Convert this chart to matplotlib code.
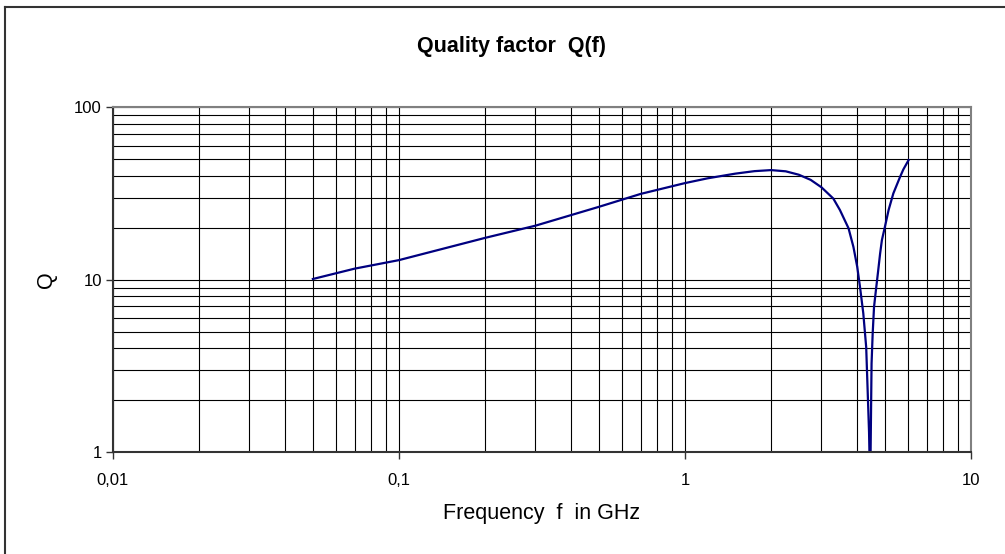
import matplotlib.pyplot as plt
from matplotlib.ticker import LogLocator, FixedLocator, FixedFormatter, NullFormatter
from matplotlib.lines import Line2D

plt.rcParams['font.family'] = ['Liberation Sans', 'DejaVu Sans']

# Werte
freq = [0.05, 0.07, 0.1, 0.2, 0.3, 0.5, 0.7, 1.0, 1.2, 1.5, 1.75, 2.0, 2.25,
        2.5, 2.75, 3.0, 3.3, 3.48, 3.73, 3.88, 4.0, 4.09, 4.2, 4.30, 4.40,
        4.44, 4.49, 4.53, 4.58, 4.65, 4.73, 4.81, 4.88, 5.0, 5.15, 5.35, 5.65,
        5.80, 6.05]
q_val = [10.1, 11.6, 13.0, 17.5, 20.6, 26.5, 31.5, 36.4, 38.8, 41.3, 42.7,
         43.3, 42.6, 40.7, 38.0, 34.4, 29.6, 25.4, 19.9, 15.5, 11.9, 9.1, 6.4,
         4.06, 1.3, 0.6, 3.26, 4.86, 6.95, 8.7, 11.1, 14.2, 17.0, 20.3, 25.4,
         31.7, 39.6, 43.7, 49.5]

x_ticks = [0.01, 0.1, 1, 10]
x_labels = ['0,01', '0,1', '1', '10']
y_ticks = [1, 10, 100]
y_labels = ['1', '10', '100']

fig = plt.figure(figsize=(10.05, 5.54), dpi=100)
ax = fig.add_axes([0.1124, 0.1841, 0.8538, 0.6219])

ax.plot(freq, q_val, color='#000080', linewidth=1.6, solid_joinstyle='round')

ax.set_xscale('log')
ax.set_yscale('log')
ax.set_xlim(0.01, 10)
ax.set_ylim(1, 100)

ax.xaxis.set_major_locator(FixedLocator(x_ticks))
ax.xaxis.set_major_formatter(FixedFormatter(x_labels))
ax.yaxis.set_major_locator(FixedLocator(y_ticks))
ax.yaxis.set_major_formatter(FixedFormatter(y_labels))
ax.xaxis.set_minor_locator(LogLocator(base=10, subs=range(2, 10), numticks=20))
ax.yaxis.set_minor_locator(LogLocator(base=10, subs=range(2, 10), numticks=20))
ax.xaxis.set_minor_formatter(NullFormatter())
ax.yaxis.set_minor_formatter(NullFormatter())

ax.grid(True, which='both', color='black', linewidth=0.8)
ax.set_axisbelow(True)
ax.tick_params(which='major', direction='out', length=5, width=1, color='#333333',
               labelsize=12)
ax.tick_params(axis='x', which='major', pad=10)
ax.tick_params(axis='y', which='major', pad=3)
ax.tick_params(which='minor', length=0)

for side in ['left', 'bottom']:
    ax.spines[side].set_color('#333333')
    ax.spines[side].set_linewidth(1.5)
for side in ['top', 'right']:
    ax.spines[side].set_color('#808080')
    ax.spines[side].set_linewidth(1.5)

ax.set_xlabel('Frequency  f  in GHz', fontsize=15.5, labelpad=11)
ax.set_ylabel('Q', fontsize=15.5, labelpad=12)
fig.text(0.509, 0.916, 'Quality factor  Q(f)', ha='center', va='center',
         fontsize=15.5, fontweight='bold')

# Rahmen des Diagrammbereichs
fig.add_artist(Line2D([0.005, 1.0], [1 - 7 / 554, 1 - 7 / 554], color='#333333', linewidth=1.5))
fig.add_artist(Line2D([0.005, 0.005], [0.0, 1 - 7 / 554], color='#333333', linewidth=1.5))

fig.savefig('out.png', dpi=100)
